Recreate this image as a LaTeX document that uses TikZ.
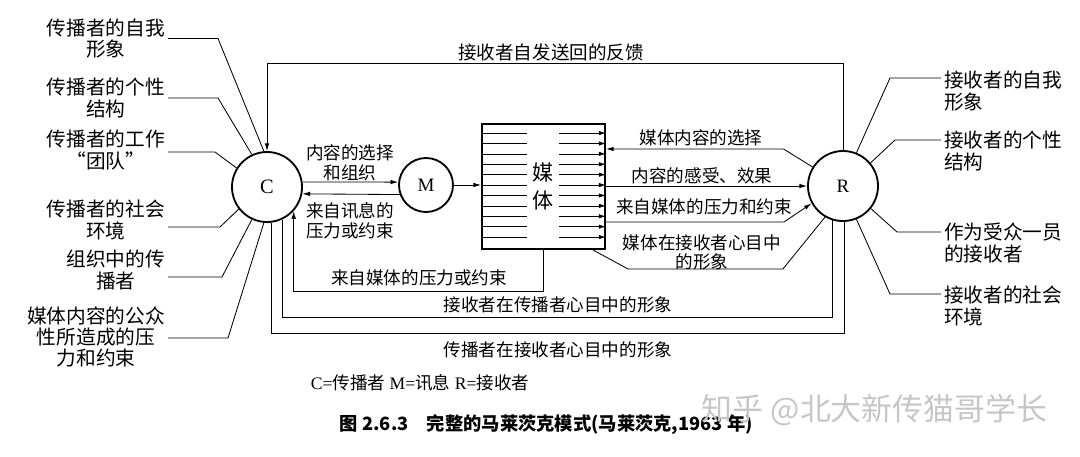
\documentclass[tikz,border=0pt]{standalone}
\usepackage{fontspec}
\setmainfont{Liberation Serif}
\newfontfamily\cjk{Noto Sans CJK SC}
\newcommand{\zh}[1]{{\cjk #1}}
\usetikzlibrary{arrows.meta,positioning,calc}

\begin{document}
\begin{tikzpicture}[x=0.025cm, y=-0.025cm,
      actor/.style={draw, circle, line width=1.3pt, inner sep=0pt, minimum size=1.75cm,
                    font=\fontsize{13.5}{15}\selectfont},
      mediabox/.style={draw, line width=1.3pt, minimum width=3.075cm, minimum height=3.125cm,
                       inner sep=0pt, align=center, font=\cjk\fontsize{15}{20}\selectfont},
      side/.style={inner sep=2pt, align=center, font=\cjk\fontsize{14}{15}\selectfont},
      rside/.style={side, align=left, anchor=west},
      lbl/.style={inner sep=1pt, align=center, font=\cjk\fontsize{12.5}{14}\selectfont},
      arr/.style={-{Latex[length=5.5pt,width=3.2pt]}, line width=0.6pt},
      ln/.style={line width=0.6pt}
    ]
      \useasboundingbox (0,0) rectangle (1080,456);

      \node[actor, font=\fontsize{14.5}{16}\selectfont] (C) at (267,187) {C};
      \node[actor, minimum size=1.35cm] (M) at (426,185) {M};
      \node[mediabox] (media) at (543.5,186.5) {媒\\体};
      \node[actor] (R) at (843,186) {R};

      \foreach \i in {0,...,10} {
        \draw[thin] ($(media.north west)+(0,10+10.4*\i)$) -- ++(46,0);
        \draw[-{Latex[length=5pt,width=3pt]}, thin] ($(media.north east)+(-47,10+10.4*\i)$) -- ++(47,0);
      }

      \node[side, anchor=east] (c1) at (168,38.5) {传播者的自我\\形象};
      \node[side, anchor=east] (c2) at (168,98) {传播者的个性\\结构};
      \node[side, anchor=east] (c3) at (168,150) {传播者的工作\\“团队”};
      \node[side, anchor=east] (c4) at (168,220) {传播者的社会\\环境};
      \node[side, anchor=east] (c5) at (168,270) {组织中的传\\播者};
      \node[side, anchor=east] (c6) at (168,337) {媒体内容的公众\\性所造成的压\\力和约束};

      \draw[ln] (c1.east) -- ++(50,0) -- (C.95);
      \draw[ln] (c2.east) -- ++(50,0) -- (C.115);
      \draw[ln] (c3.east) ++(0,2) -- ++(47,0) -- (C.148);
      \draw[ln] (c4.east) ++(0,7) -- ++(52,0) -- (C.218);
      \draw[ln] (c5.east) ++(0,7) -- ++(54,0) -- (C.245);
      \draw[ln] (c6.east) ++(0,1) -- ++(60,0) -- (C.265);

      \node[rside] (r1) at (941,91) {接收者的自我\\形象};
      \node[rside] (r2) at (941,151) {接收者的个性\\结构};
      \node[rside] (r3) at (941,243) {作为受众一员\\的接收者};
      \node[rside] (r4) at (941,306) {接收者的社会\\环境};

      \draw[ln] (r1.west) ++(0,-13) -- ++(-51,0) -- (R.68);
      \draw[ln] (r2.west) ++(0,-11) -- ++(-46,0) -- (R.40);
      \draw[ln] (r3.west) ++(0,-11) -- ++(-44,0) -- (R.-39);
      \draw[ln] (r4.west) ++(0,-12) -- ++(-51,0) -- (R.-68);

      \draw[arr] (C.8) -- (M.174);
      \draw[arr] (M.200) -- (C.-11.5);
      \draw[arr] (M.east) -- (M.east -| media.west);
      \draw[arr] (media.south) -- ++(0,41) -| (C.-42);
      \draw[arr] (R.north) -- ++(0,-87) -| (C.north);
      \draw[arr] (R.148) -- ++(-29,-18) coordinate (k1) -- (k1 -| media.east);
      \draw[arr] (R -| media.east) -- (R.west);
      \draw[arr] ($(media.east)+(0,35.5)$) -- ++(178,0) -- (R.209);
      \draw[ln] ($(media.south east)+(-13,0)$) -- ++(35,19) -- ++(155,0) -- (R.240);
      \draw[ln] (R.253) -- ++(0,97.5) -| (C.295);
      \draw[ln] (R.273) -- ++(0,112) -| (C.277);

      \node[lbl, font=\cjk\fontsize{13.2}{15}\selectfont] (fb) at (551,52) {接收者自发送回的反馈};
      \node[lbl] (l1) at (350,163) {内容的选择\\和组织};
      \node[lbl] (l2) at (350,221) {来自讯息的\\压力或约束};
      \node[lbl] (l3) at (419,278) {来自媒体的压力或约束};
      \node[lbl] (l4) at (701,138) {媒体内容的选择};
      \node[lbl] (l5) at (702,176) {内容的感受、效果};
      \node[lbl] (l6) at (704,207) {来自媒体的压力和约束};
      \node[lbl] (l7) at (702,252.5) {媒体在接收者心目中\\的形象};
      \node[lbl] (l8) at (558,305) {接收者在传播者心目中的形象};
      \node[lbl] (l9) at (558,350) {传播者在接收者心目中的形象};

      \node[anchor=west, font=\fontsize{12.5}{14}\selectfont] (key) at (306,383)
        {C=\zh{传播者}\ M=\zh{讯息}\ R=\zh{接收者}};
      \node[anchor=west, font=\cjk\bfseries\fontsize{13}{15}\selectfont] (cap) at (335,425)
        {图 2.6.3\quad 完整的马莱茨克模式(马莱茨克,1963 年)};
      \node[anchor=west, text=gray!45, font=\cjk\fontsize{22}{24}\selectfont] (wm) at (697,410)
        {知乎 @北大新传猫哥学长};
    \end{tikzpicture}
\end{document}
